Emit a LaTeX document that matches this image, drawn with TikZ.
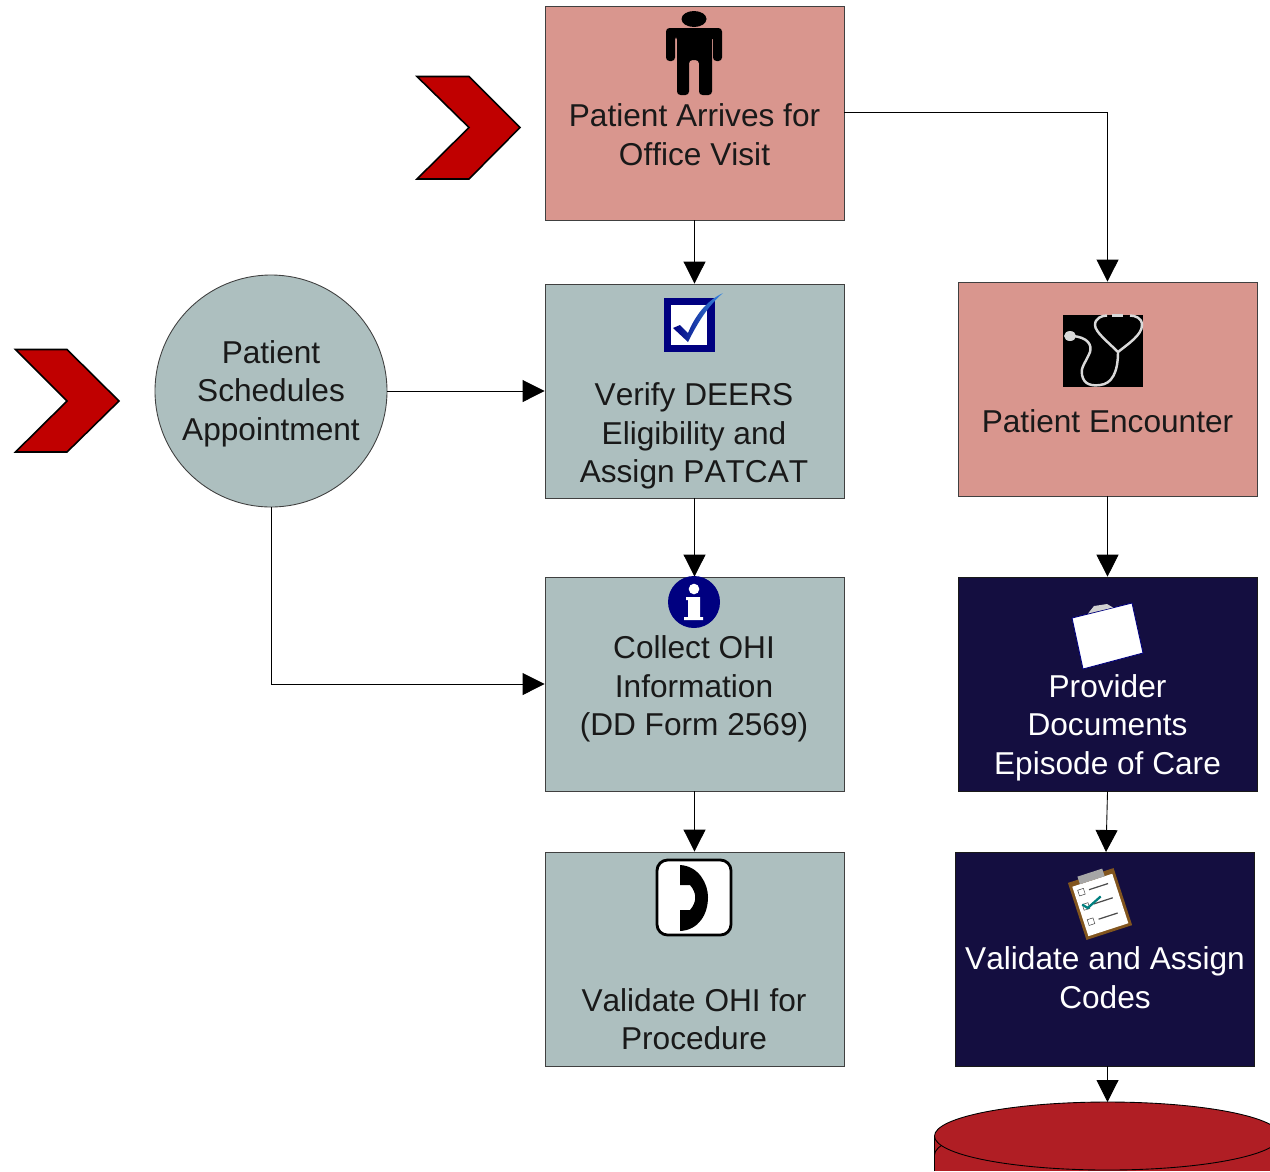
\documentclass[tikz,border=0pt]{standalone}
\usepackage{fontspec}
\setmainfont[Kerning=Off]{Liberation Sans}
\usetikzlibrary{arrows.meta}
\definecolor{rosefill}{RGB}{217,150,142}
\definecolor{tealfill}{RGB}{173,191,191}
\definecolor{navyfill}{RGB}{20,14,64}
\definecolor{chevronred}{RGB}{192,0,0}
\definecolor{drumred}{RGB}{176,30,36}
\definecolor{iconblue}{RGB}{0,0,128}
\definecolor{checklight}{RGB}{60,140,225}
\definecolor{boardbrown}{RGB}{130,85,30}
\tikzset{
  procbox/.style={draw=black!75,line width=0.5pt,minimum width=299*0.02cm,minimum height=214*0.02cm,inner sep=0pt},
  rosebox/.style={procbox,fill=rosefill},
  tealbox/.style={procbox,fill=tealfill},
  navybox/.style={procbox,draw=black!90,line width=0.4pt,fill=navyfill},
  boxtext/.style={align=center,font=\fontsize{18}{21.9}\selectfont,text=black!90,inner sep=0pt},
  flow/.style={line width=0.5pt,-{Triangle[length=22*0.02cm,width=22*0.02cm]}},
  chevron/.style={fill=chevronred,draw=black,line width=0.9pt,line join=miter}
}
\begin{document}
\begin{tikzpicture}[x=0.02cm,y=-0.02cm]
    \useasboundingbox (0,0) rectangle (1270,1171);

    % Cajas
    \node[rosebox] (arrive) at (694.5,113) {};
    \node[tealbox] (verify) at (694.5,391) {};
    \node[tealbox] (collect) at (694.5,684) {};
    \node[tealbox] (validate) at (694.5,959) {};
    \node[rosebox] (encounter) at (1107.5,389) {};
    \node[navybox] (provider) at (1107.5,684) {};
    \node[navybox] (codes) at (1104.5,959) {};
    \node[circle,draw=black!75,line width=0.5pt,fill=tealfill,minimum size=232*0.02cm,inner sep=0pt] (schedule) at (271,391) {};

    % Tambor
    \fill[drumred] (934.5,1171) -- (934.5,1136) -- (1280,1136) -- (1280,1171) -- cycle;
    \draw[line width=0.5pt] (934.5,1171) -- (934.5,1136);
    \draw[line width=0.5pt] (934.5,1155) arc[x radius=173,y radius=34,start angle=180,end angle=360];
    \draw[fill=drumred,line width=0.5pt] (1107.5,1136) ellipse[x radius=173,y radius=34];
    \coordinate (drumtop) at (1107.5,1102);

    % Textos
    \node[boxtext] (arrivetext) at (694.5,134.5) {Patient Arrives for\\Office Visit};
    \node[boxtext] (verifytext) at (694,436) {Verify DEERS\\Eligibility and\\Assign PATCAT};
    \node[boxtext] (collecttext) at (694,689) {Collect OHI\\Information\\(DD Form 2569)};
    \node[boxtext] (validatetext) at (694,1019) {Validate OHI for\\Procedure};
    \node[boxtext] (encountertext) at (1107.5,421) {Patient Encounter};
    \node[boxtext,text=white] (providertext) at (1107.5,727.5) {Provider\\Documents\\Episode of Care};
    \node[boxtext,text=white] (codestext) at (1105,977.5) {Validate and Assign\\Codes};
    \node[boxtext] (scheduletext) at (271,393.5) {Patient\\Schedules\\Appointment};

    % Flechas
    \draw[flow] (arrive) -- (verify);
    \draw[flow] (verify) -- (collect);
    \draw[flow] (collect) -- (validate);
    \draw[flow] (encounter) -- (provider);
    \draw[flow] (provider.south) -- (1106,852);
    \draw[flow] (codes.south -| drumtop) -- (drumtop);
    \draw[flow] (arrive.east |- 0,112) -- (1107.5,112) -- (encounter.north);
    \draw[flow] (schedule) -- (verify);
    \draw[flow] (schedule) |- (collect);

    % Chevrones
    \draw[chevron] (417,76.5) -- (469,76.5) -- (520,127.5) -- (469,179) -- (417,179) -- (469,127.5) -- cycle;
    \draw[chevron] (15.5,349.5) -- (67,349.5) -- (119,401) -- (67,452) -- (15.5,452) -- (67,401) -- cycle;

    % Persona
    \fill[black] (694,19) ellipse[x radius=12.5,y radius=8];
    \fill[black,rounded corners=2pt] (666,28) -- (722,28) -- (722,61) -- (713,61) -- (713,36) -- (712,36) -- (712,95) -- (699,95) -- (699,60) -- (689,60) -- (689,95) -- (677,95) -- (677,36) -- (675,36) -- (675,61) -- (666,61) -- cycle;

    % Casilla
    \draw[iconblue,line width=4pt,fill=white] (667.5,301.5) rectangle (711,348.5);
    \shade[left color=iconblue,right color=checklight] (673,328) -- (680,325) -- (688,333) .. controls (695,316) and (706,301) .. (723,293) .. controls (708,306) and (698,322) .. (688,342) -- cycle;

    % Estetoscopio
    \fill[black] (1063,315) rectangle (1143,387);
    \begin{scope}[white!85!black,line width=1.4pt]
        \draw (1072,336) .. controls (1088,337) and (1092,345) .. (1090,352) .. controls (1086,362) and (1080,368) .. (1082,375) .. controls (1084,385) and (1092,386) .. (1100,385) .. controls (1112,384) and (1118,372) .. (1118,352);
        \draw (1107,315.5) .. controls (1102,315.5) and (1095,318) .. (1095,325) .. controls (1095,332) and (1108,342) .. (1118,352) .. controls (1128,344) and (1142,335) .. (1142,325) .. controls (1142,318) and (1135,315.5) .. (1130,315.5);
        \draw (1112,315.5) -- (1123,315.5);
        \fill (1070,336) ellipse[x radius=6,y radius=5];
    \end{scope}

    % Informacion
    \fill[iconblue] (694,602) circle[radius=26];
    \fill[white] (694,589) circle[radius=5.3];
    \fill[white] (686,597) -- (700,597) -- (700,617) -- (703,617) -- (703,620) -- (684,620) -- (684,617) -- (688,617) -- (688,600) -- (686,600) -- cycle;

    % Telefono
    \draw[black,line width=1.6pt,fill=white,rounded corners=6pt] (657,860) rectangle (731,935);
    \fill[black] (680,865) .. controls (699,866) and (708,884) .. (708,897) .. controls (708,914) and (699,930) .. (680,931) -- (680,910) -- (690,910) .. controls (697,902) and (697,893) .. (690,885) -- (680,885) -- cycle;

    % Hoja
    \fill[white] (1072,618) -- (1132,603) -- (1143,653) -- (1083,669) -- cycle;
    \draw[iconblue,line width=0.5pt] (1072,618) -- (1132,603) -- (1143,653) -- (1083,669) -- cycle;
    \fill[black!18] (1088,613.5) -- (1094,606) -- (1107,604) -- (1113,607.5) -- cycle;

    % Tablilla
    \begin{scope}[shift={(1100,904)},rotate=18]
        \fill[boardbrown] (-24,-30) rectangle (24,30);
        \fill[white] (-21,-25) rectangle (21,27);
        \fill[black!35] (-13,-33) rectangle (13,-25);
        \foreach \yy in {-17,-2,14}{
            \draw[black!70,line width=0.3pt] (-17,\yy-3) rectangle (-11,\yy+3);
            \draw[black!70,line width=0.7pt] (-6,\yy) -- (14,\yy);
        }
        \draw[teal,line width=1.3pt] (-17,-5) -- (-13,0) -- (3,-7);
    \end{scope}
\end{tikzpicture}
\end{document}
